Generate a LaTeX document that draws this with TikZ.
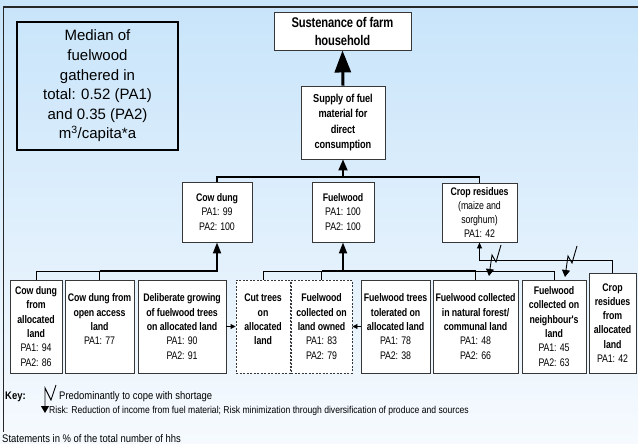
\documentclass[tikz,border=0pt]{standalone}
\usepackage{fontspec}
\setmainfont{Liberation Sans}
\newfontfamily\narrowsans[FakeStretch=0.8,LetterSpace=-1]{Liberation Sans}
\newfontfamily\keysans[FakeStretch=0.86]{Liberation Sans}
\usetikzlibrary{arrows.meta}

\definecolor{bgtop}{RGB}{200,228,250}
\definecolor{bgbottom}{RGB}{246,250,254}
\definecolor{boxline}{RGB}{55,55,55}

\tikzset{
	box/.style={draw=boxline, fill=white, line width=0.9pt, align=center, inner sep=0pt, font=\narrowsans\fontsize{11}{14.3}\selectfont},
	dashbox/.style={box, dash pattern=on 2pt off 1.5pt},
	branch/.style={line width=0.9pt, draw=black},
	trunk/.style={line width=1.8pt, draw=black},
	shortage/.style={line width=0.9pt, -{Triangle[width=8pt,length=7pt]}},
	keytext/.style={anchor=west, inner sep=0pt, font=\keysans\fontsize{11}{12}\selectfont}
}

\begin{document}
\begin{tikzpicture}[x=1pt,y=-1pt]
		\useasboundingbox (0,0) rectangle (638,444);
		\shade[top color=bgtop, bottom color=bgbottom] (0,0) rectangle (638,444);
		\draw[line width=1.3pt, black!85] (638,7) to (3.5,7) to (3.5,432);
		
		\node[draw=black, line width=1.6pt, align=center, inner sep=0pt, minimum width=161pt, minimum height=128pt, font=\fontsize{15}{19.6}\selectfont] (median) at (97.5,86) {Median of\\fuelwood\\gathered in\\total: 0.52 (PA1)\\and 0.35 (PA2)\\m\textsuperscript{3}/capita*a};
		
		\node[box, minimum width=137pt, minimum height=38pt, font=\narrowsans\bfseries\fontsize{14}{18}\selectfont] (sust) at (342.5,31) {Sustenance of farm\\household};
		\node[box, minimum width=84pt, minimum height=73pt, font=\narrowsans\bfseries\fontsize{11.5}{15.3}\selectfont] (supply) at (343,122.5) {Supply of fuel\\material for\\direct\\consumption};
		
		\node[box, minimum width=70pt, minimum height=60pt] (cowdung) at (217,212) {\textbf{Cow dung}\\PA1: 99\\PA2: 100};
		\node[box, minimum width=62pt, minimum height=60pt] (fuelwood) at (343,212) {\textbf{Fuelwood}\\PA1: 100\\PA2: 100};
		\node[box, minimum width=75pt, minimum height=59pt] (cropres) at (479.5,212.5) {\textbf{Crop residues}\\(maize and\\sorghum)\\PA1: 42};
		
		\node[box, minimum width=52pt, minimum height=93pt] (cdalloc) at (36,326.5) {\textbf{Cow dung}\\\textbf{from}\\\textbf{allocated}\\\textbf{land}\\PA1: 94\\PA2: 86};
		\node[box, minimum width=69pt, minimum height=93pt] (cdopen) at (99.5,326.5) {\textbf{Cow dung from}\\\textbf{open access}\\\textbf{land}\\PA1: 77\\\mbox{}};
		\node[box, minimum width=88pt, minimum height=93pt] (delib) at (182,326.5) {\textbf{Deliberate growing}\\\textbf{of fuelwood trees}\\\textbf{on allocated land}\\PA1: 90\\PA2: 91};
		\node[dashbox, minimum width=54pt, minimum height=93pt] (cuttrees) at (263,326.5) {\textbf{Cut trees}\\\textbf{on}\\\textbf{allocated}\\\textbf{land}\\\mbox{}};
		\node[dashbox, minimum width=61pt, minimum height=93pt] (landowned) at (321.5,326.5) {\textbf{Fuelwood}\\\textbf{collected on}\\\textbf{land owned}\\PA1: 83\\PA2: 79};
		\node[box, minimum width=69pt, minimum height=93pt] (tolerated) at (395.5,326.5) {\textbf{Fuelwood trees}\\\textbf{tolerated on}\\\textbf{allocated land}\\PA1: 78\\PA2: 38};
		\node[box, minimum width=85pt, minimum height=93pt] (natforest) at (475.5,326.5) {\textbf{Fuelwood collected}\\\textbf{in natural forest/}\\\textbf{communal land}\\PA1: 48\\PA2: 66};
		\node[box, minimum width=64pt, minimum height=93pt] (neighbour) at (554,326.5) {\textbf{Fuelwood}\\\textbf{collected on}\\\textbf{neighbour's}\\\textbf{land}\\PA1: 45\\PA2: 63};
		\node[box, minimum width=47pt, minimum height=100pt] (cropalloc) at (612.5,323) {\textbf{Crop}\\\textbf{residues}\\\textbf{from}\\\textbf{allocated}\\\textbf{land}\\PA1: 42};
		
		% upper level
		\coordinate (topbar) at (343,177);
		\draw[trunk] (cowdung.north) |- (topbar) -| (cropres.north);
		\draw[trunk, -{Triangle[width=9pt,length=11pt]}] (topbar) to (supply.south);
		\draw[trunk, line width=3pt, -{Triangle[width=16pt,length=22pt]}] (supply.north) to (sust.south);
		
		% cow dung
		\coordinate (cdjoin) at (99.5,271);
		\coordinate (cdbar) at (217,271);
		\draw[branch] (cdalloc.north) |- (cdjoin) to (cdopen.north);
		\draw[trunk, -{Triangle[width=8pt,length=11pt]}] (cdjoin) to (cdbar) to (cowdung.south);
		
		% fuelwood
		\coordinate (fwjoin) at (321.5,271);
		\coordinate (fwbar) at (343,271);
		\coordinate (nfjoin) at (475.5,271);
		\draw[branch] (cuttrees.north) |- (fwjoin) to (landowned.north);
		\draw[branch] (natforest.north) to (nfjoin) -| (neighbour.north);
		\draw[trunk] (fwjoin) to (nfjoin);
		\draw[trunk, -{Triangle[width=8pt,length=11pt]}] (fwbar) to (fuelwood.south);
		\draw[branch, -{Triangle[width=5pt,length=5pt]}] (delib.east) to (cuttrees.west);
		\draw[branch, -{Triangle[width=5pt,length=5pt]}] (tolerated.west) to (landowned.east);
		
		% crop residues
		\coordinate (crbar) at (479.5,260);
		\draw[branch, -{Triangle[width=5pt,length=6pt]}] (cropalloc.north) |- (crbar) to (cropres.south);
		
		% shortage
		\coordinate (nfshort) at (489,276);
		\coordinate (nbshort) at (565,277);
		\draw[shortage] (501,245) to (496,262) to (492,255) to (nfshort);
		\draw[shortage] (577,246) to (572,263) to (568,256) to (nbshort);
		
		% key
		\node[keytext, font=\keysans\bfseries\fontsize{11}{12}\selectfont] (key) at (5,397) {Key:};
		\coordinate (keytip) at (45,413);
		\draw[shortage] (56,385) to (51,400) to (45,388) to (keytip);
		\node[keytext] (keyshort) at (59,397) {Predominantly to cope with shortage};
		\node[keytext, font=\keysans\fontsize{10}{12}\selectfont] (keyrisk) at (49,411) {Risk: Reduction of income from fuel material; Risk minimization through diversification of produce and sources};
		\node[keytext] (stmt) at (2,439) {Statements in \% of the total number of hhs};
	\end{tikzpicture}
\end{document}
